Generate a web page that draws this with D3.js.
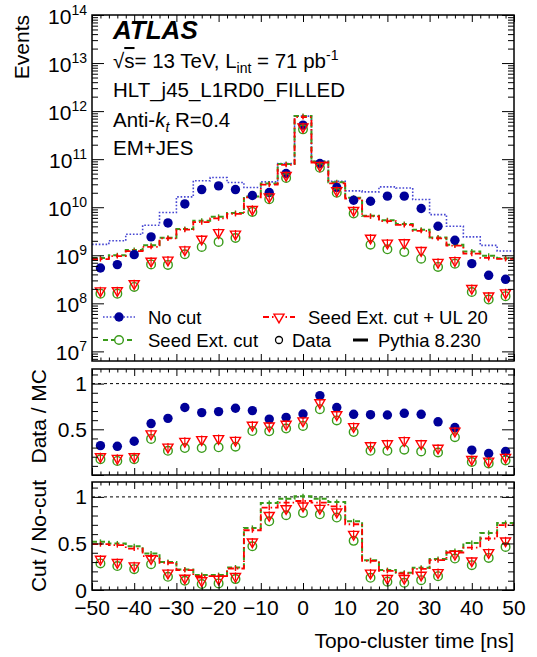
<!DOCTYPE html>
<html>
<head>
<meta charset="utf-8">
<script src="https://cdn.jsdelivr.net/npm/d3@7"></script>
<style>
  body { margin: 0; background: #fff; }
  svg { font-family: "Liberation Sans", Arial, Helvetica, sans-serif; }
</style>
</head>
<body>
<div id="chart"></div>
<script>
// bin centres of the time histogram [ns], 4 ns wide bins
const binCenters = [-48, -44, -40, -36, -32, -28, -24, -20, -16, -12, -8, -4, 0, 4, 8, 12, 16, 20, 24, 28, 32, 36, 40, 44, 48];
const binWidth = 4;

// top panel: events
const dataNoCut = [5.43e8, 6.4e8, 1.03e9, 2.41e9, 4.71e9, 1.17e10, 2.33e10, 2.78e10, 2.33e10, 1.75e10, 2.02e10, 5.04e10, 5.11e11, 8.13e10, 2.57e10, 1.4e10, 1.33e10, 1.7e10, 1.7e10, 9.4e9, 4.02e9, 2.05e9, 6.7e8, 3.83e8, 3.16e8];
const dataSeed = [1.59e8, 1.59e8, 2.19e8, 6.46e8, 6.31e8, 1.05e9, 1.49e9, 1.9e9, 2.29e9, 8.0e9, 1.47e10, 4.07e10, 4.17e11, 6.6e10, 2.0e10, 7.38e9, 1.66e9, 1.33e9, 1.17e9, 8.5e8, 5.71e8, 6.7e8, 1.72e8, 1.2e8, 1.41e8];
const dataSeedUL = [1.74e8, 1.75e8, 2.45e8, 7.2e8, 7.6e8, 1.24e9, 2.07e9, 2.83e9, 2.64e9, 8.6e9, 1.57e10, 4.38e10, 4.49e11, 7.05e10, 2.12e10, 8.2e9, 2.17e9, 1.71e9, 1.74e9, 1.2e9, 6.8e8, 7.4e8, 1.95e8, 1.36e8, 1.58e8];
const mcNoCut = [1.69e9, 2.0e9, 2.74e9, 4.22e9, 7.76e9, 1.64e10, 3.55e10, 4.15e10, 3.27e10, 2.57e10, 3.37e10, 8.13e10, 7.87e11, 9.08e10, 3.47e10, 2.19e10, 2.09e10, 2.65e10, 2.51e10, 1.45e10, 7.03e9, 4.02e9, 2.41e9, 1.61e9, 1.23e9];
const mcSeed = [8.75e8, 1.0e9, 1.29e9, 1.62e9, 2.32e9, 3.51e9, 5.25e9, 6.31e9, 7.59e9, 1.68e10, 3.13e10, 7.98e10, 7.93e11, 8.91e10, 3.31e10, 1.58e10, 6.61e9, 5.37e9, 4.47e9, 3.39e9, 2.33e9, 1.66e9, 1.2e9, 9.77e8, 8.71e8];
const mcSeedUL = [8.32e8, 9.64e8, 1.22e9, 1.5e9, 2.24e9, 3.41e9, 4.89e9, 5.87e9, 7.24e9, 1.61e10, 2.96e10, 7.64e10, 7.53e11, 8.53e10, 3.15e10, 1.52e10, 6.46e9, 5.16e9, 4.28e9, 3.22e9, 2.25e9, 1.59e9, 1.08e9, 8.81e8, 8.41e8];

// middle panel: data / MC
const dmcNoCut = [0.321, 0.314, 0.369, 0.563, 0.62, 0.739, 0.683, 0.694, 0.731, 0.705, 0.612, 0.631, 0.668, 0.869, 0.739, 0.664, 0.66, 0.657, 0.675, 0.664, 0.582, 0.519, 0.272, 0.235, 0.257];
const dmcSeed = [0.172, 0.154, 0.172, 0.395, 0.265, 0.295, 0.295, 0.303, 0.31, 0.481, 0.478, 0.508, 0.537, 0.72, 0.597, 0.47, 0.265, 0.265, 0.277, 0.257, 0.246, 0.414, 0.142, 0.127, 0.16];
const dmcSeedUL = [0.19, 0.172, 0.19, 0.44, 0.295, 0.358, 0.377, 0.388, 0.369, 0.534, 0.526, 0.545, 0.582, 0.78, 0.649, 0.519, 0.31, 0.332, 0.366, 0.332, 0.283, 0.47, 0.16, 0.142, 0.183];

// bottom panel: cut / no-cut
const cutDataSeed = [0.285, 0.257, 0.224, 0.277, 0.142, 0.099, 0.064, 0.071, 0.117, 0.47, 0.738, 0.803, 0.828, 0.813, 0.778, 0.528, 0.131, 0.089, 0.077, 0.106, 0.149, 0.338, 0.267, 0.345, 0.463];
const cutDataSeedUL = [0.32, 0.285, 0.249, 0.327, 0.171, 0.117, 0.089, 0.106, 0.135, 0.506, 0.791, 0.863, 0.892, 0.867, 0.828, 0.588, 0.171, 0.114, 0.114, 0.149, 0.177, 0.374, 0.302, 0.392, 0.517];
const cutMcSeed = [0.517, 0.5, 0.47, 0.392, 0.302, 0.22, 0.16, 0.16, 0.242, 0.667, 0.934, 0.981, 1.006, 0.981, 0.946, 0.738, 0.32, 0.214, 0.185, 0.239, 0.332, 0.42, 0.506, 0.613, 0.72];
const cutMcSeedUL = [0.492, 0.482, 0.445, 0.363, 0.292, 0.214, 0.149, 0.149, 0.231, 0.642, 0.884, 0.938, 0.956, 0.938, 0.899, 0.706, 0.313, 0.206, 0.177, 0.227, 0.32, 0.403, 0.456, 0.553, 0.696];

const xTickLabels = [-50, -40, -30, -20, -10, 0, 10, 20, 30, 40, 50];
const logTicks = [1e7, 1e8, 1e9, 1e10, 1e11, 1e12, 1e13, 1e14];
const ratioTicks = [0, 0.5, 1];

const W = 537, H = 657;
const X0 = 92, X1 = 514;
const panels = {
  top: { y0: 15, y1: 361 },
  mid: { y0: 369, y1: 475 },
  bot: { y0: 482, y1: 590 }
};

const colBlue = "#000099", colBlueLine = "#4646d2";
const colGreen = "#3a9b1a", colRed = "#ff0000";

const svg = d3.select("#chart").append("svg")
  .attr("width", W).attr("height", H);

const x = d3.scaleLinear().domain([-50, 50]).range([X0, X1]);
const yTop = d3.scaleLog().domain([Math.pow(10, 6.8), 1e14]).range([panels.top.y1, panels.top.y0]);
const yMid = d3.scaleLinear().domain([0, 1.16]).range([panels.mid.y1, panels.mid.y0]);
const yBot = d3.scaleLinear().domain([0, 1.16]).range([panels.bot.y1, panels.bot.y0]);

const xMajor = xTickLabels;
const xMinor = d3.range(-50, 50.1, 2).filter(v => v % 10 !== 0);

function drawXTicks(p, major, minor) {
  const mk = (axisFn, y, vals, len) => svg.append("g")
    .attr("transform", `translate(0,${y})`)
    .call(axisFn(x).tickValues(vals).tickSize(len).tickFormat(""))
    .call(g => g.select(".domain").remove())
    .selectAll("line").attr("stroke", "#000");
  mk(d3.axisBottom, p.y1, xMajor, -major);
  mk(d3.axisBottom, p.y1, xMinor, -minor);
  mk(d3.axisTop, p.y0, xMajor, -major);
  mk(d3.axisTop, p.y0, xMinor, -minor);
}

function drawYTicks(y, majors, minors, major, minor) {
  const mk = (axisFn, xp, vals, len) => svg.append("g")
    .attr("transform", `translate(${xp},0)`)
    .call(axisFn(y).tickValues(vals).tickSize(len).tickFormat(""))
    .call(g => g.select(".domain").remove())
    .selectAll("line").attr("stroke", "#000");
  mk(d3.axisLeft, X0, majors, -major);
  mk(d3.axisLeft, X0, minors, -minor);
  mk(d3.axisRight, X1, majors, -major);
  mk(d3.axisRight, X1, minors, -minor);
}

function drawFrame(p) {
  svg.append("rect")
    .attr("x", X0).attr("y", p.y0)
    .attr("width", X1 - X0).attr("height", p.y1 - p.y0)
    .attr("fill", "none").attr("stroke", "#000").attr("stroke-width", 1.5);
}

const stepLine = (y) => d3.line()
  .x(d => x(d[0])).y(d => y(d[1]))
  .curve(d3.curveStepAfter);

function stepPoints(vals) {
  const pts = binCenters.map((c, i) => [c - binWidth / 2, vals[i]]);
  pts.push([binCenters[binCenters.length - 1] + binWidth / 2, vals[vals.length - 1]]);
  return pts;
}

const styles = {
  blue: { stroke: colBlueLine, dash: "1.6,1.8", width: 1.6 },
  green: { stroke: colGreen, dash: "5,3", width: 2 },
  red: { stroke: colRed, dash: "6,3,1.5,3", width: 1.8 }
};

function drawStep(y, vals, st, withErr) {
  svg.append("path")
    .attr("d", stepLine(y)(stepPoints(vals)))
    .attr("fill", "none")
    .attr("stroke", st.stroke)
    .attr("stroke-width", st.width)
    .attr("stroke-dasharray", st.dash);
  if (withErr) {
    svg.append("g").selectAll("line")
      .data(binCenters.map((c, i) => [c, vals[i]]))
      .join("line")
      .attr("x1", d => x(d[0])).attr("x2", d => x(d[0]))
      .attr("y1", d => y(d[1]) - 2.5).attr("y2", d => y(d[1]) + 2.5)
      .attr("stroke", st.stroke).attr("stroke-width", 1.4);
  }
}

function drawFilled(y, vals) {
  svg.append("g").selectAll("circle")
    .data(binCenters.map((c, i) => [c, vals[i]]))
    .join("circle")
    .attr("cx", d => x(d[0])).attr("cy", d => y(d[1]))
    .attr("r", 4.7).attr("fill", colBlue);
}

function drawOpen(y, vals) {
  svg.append("g").selectAll("circle")
    .data(binCenters.map((c, i) => [c, vals[i]]))
    .join("circle")
    .attr("cx", d => x(d[0])).attr("cy", d => y(d[1]))
    .attr("r", 4.3).attr("fill", "none")
    .attr("stroke", colGreen).attr("stroke-width", 1.4);
}

const triSym = d3.symbol(d3.symbolTriangle, 44);
function drawTri(y, vals) {
  const g = svg.append("g");
  const pts = binCenters.map((c, i) => [c, vals[i]]);
  g.selectAll("line")
    .data(pts).join("line")
    .attr("x1", d => x(d[0])).attr("x2", d => x(d[0]))
    .attr("y1", d => y(d[1]) - 5).attr("y2", d => y(d[1]) + 3)
    .attr("stroke", colRed).attr("stroke-width", 1.2);
  g.selectAll("path")
    .data(pts).join("path")
    .attr("d", triSym())
    .attr("transform", d => `translate(${x(d[0])},${y(d[1]) - 1}) rotate(180)`)
    .attr("fill", "none").attr("stroke", colRed).attr("stroke-width", 1.4);
}

// ---------- top panel ----------
drawStep(yTop, mcNoCut, styles.blue, false);
drawStep(yTop, mcSeed, styles.green, true);
drawStep(yTop, mcSeedUL, styles.red, true);
drawFilled(yTop, dataNoCut);
drawOpen(yTop, dataSeed);
drawTri(yTop, dataSeedUL);

const logMinor = [];
for (let k = 6; k < 14; k++) for (let m = 2; m <= 9; m++) {
  const v = m * Math.pow(10, k);
  if (v > yTop.domain()[0] && v < 1e14) logMinor.push(v);
}
drawYTicks(yTop, logTicks, logMinor, 12, 6);
drawXTicks(panels.top, 7, 3.5);
drawFrame(panels.top);

// log labels 10^n
const topLabels = svg.append("g").attr("font-size", 21).attr("text-anchor", "end");
logTicks.forEach(v => {
  const t = topLabels.append("text").attr("x", X0 - 5).attr("y", yTop(v) + 9);
  t.append("tspan").text("10");
  t.append("tspan").attr("font-size", 14).attr("dy", -9).text(Math.round(Math.log10(v)));
});

svg.append("text")
  .attr("transform", `translate(29,${panels.top.y0}) rotate(-90)`)
  .attr("text-anchor", "end").attr("font-size", 21)
  .text("Events");

// ATLAS label block
const tx = 113;
svg.append("text").attr("x", tx).attr("y", 39)
  .attr("font-size", 26).attr("font-weight", "bold").attr("font-style", "italic")
  .text("ATLAS");
const l1 = svg.append("text").attr("x", tx).attr("y", 68).attr("font-size", 20.5);
l1.append("tspan").text("√");
l1.append("tspan").style("text-decoration", "overline").text("s");
l1.append("tspan").text("= 13 TeV, L");
l1.append("tspan").attr("font-size", 14).attr("dy", 5).text("int");
l1.append("tspan").attr("dy", -5).text(" = 71 pb");
l1.append("tspan").attr("font-size", 14).attr("dy", -8).text("-1");
svg.append("text").attr("x", tx).attr("y", 97).attr("font-size", 20.5).text("HLT_j45_L1RD0_FILLED");
const l3 = svg.append("text").attr("x", tx).attr("y", 127).attr("font-size", 20.5);
l3.append("tspan").text("Anti-");
l3.append("tspan").attr("font-style", "italic").text("k");
l3.append("tspan").attr("font-style", "italic").attr("font-size", 14).attr("dy", 5).text("t");
l3.append("tspan").attr("dy", -5).text(" R=0.4");
svg.append("text").attr("x", tx).attr("y", 155).attr("font-size", 20.5).text("EM+JES");

// legend
const lg = svg.append("g").attr("font-size", 18.5);
const row1 = 317, row2 = 340;
function legLine(x1, x2, yy, st) {
  lg.append("line").attr("x1", x1).attr("x2", x2).attr("y1", yy).attr("y2", yy)
    .attr("stroke", st.stroke).attr("stroke-width", st.width).attr("stroke-dasharray", st.dash);
}
legLine(103, 135, row1, styles.blue);
lg.append("circle").attr("cx", 119).attr("cy", row1).attr("r", 4.7).attr("fill", colBlue);
lg.append("text").attr("x", 148).attr("y", row1 + 6.5).text("No cut");

legLine(103, 135, row2, styles.green);
lg.append("circle").attr("cx", 119).attr("cy", row2).attr("r", 4.3)
  .attr("fill", "#fff").attr("stroke", colGreen).attr("stroke-width", 1.4);
lg.append("text").attr("x", 148).attr("y", row2 + 6.5).text("Seed Ext. cut");

legLine(263, 295, row1, styles.red);
lg.append("path").attr("d", triSym())
  .attr("transform", `translate(279,${row1}) rotate(180)`)
  .attr("fill", "#fff").attr("stroke", colRed).attr("stroke-width", 1.4);
lg.append("text").attr("x", 308).attr("y", row1 + 6.5).text("Seed Ext. cut + UL 20");

lg.append("circle").attr("cx", 279).attr("cy", row2).attr("r", 3.5)
  .attr("fill", "none").attr("stroke", "#000").attr("stroke-width", 1.3);
lg.append("text").attr("x", 292).attr("y", row2 + 6.5).text("Data");

lg.append("line").attr("x1", 353).attr("x2", 368).attr("y1", row2).attr("y2", row2)
  .attr("stroke", "#000").attr("stroke-width", 3);
lg.append("text").attr("x", 378).attr("y", row2 + 6.5).text("Pythia 8.230");

// ---------- ratio panels ----------
const ratioMinor = d3.range(0.1, 1.16, 0.1).filter(v => Math.abs(v - 0.5) > 1e-6 && Math.abs(v - 1) > 1e-6);

function refLine(y) {
  svg.append("line")
    .attr("x1", X0).attr("x2", X1).attr("y1", y(1)).attr("y2", y(1))
    .attr("stroke", "#000").attr("stroke-width", 1).attr("stroke-dasharray", "3,3");
}

function ratioLabels(y, vals) {
  svg.append("g").attr("font-size", 21).attr("text-anchor", "end")
    .selectAll("text").data(vals).join("text")
    .attr("x", X0 - 5).attr("y", d => y(d) + 7.5)
    .text(d => d);
}

// middle
refLine(yMid);
drawFilled(yMid, dmcNoCut);
drawOpen(yMid, dmcSeed);
drawTri(yMid, dmcSeedUL);
drawYTicks(yMid, ratioTicks, ratioMinor, 12, 6);
drawXTicks(panels.mid, 7, 3.5);
drawFrame(panels.mid);
ratioLabels(yMid, [0.5, 1]);
svg.append("text")
  .attr("transform", `translate(46,${panels.mid.y0}) rotate(-90)`)
  .attr("text-anchor", "end").attr("font-size", 21)
  .text("Data / MC");

// bottom
refLine(yBot);
drawStep(yBot, cutMcSeed, styles.green, true);
drawStep(yBot, cutMcSeedUL, styles.red, true);
drawOpen(yBot, cutDataSeed);
drawTri(yBot, cutDataSeedUL);
drawYTicks(yBot, ratioTicks, ratioMinor, 12, 6);
drawXTicks(panels.bot, 7, 3.5);
drawFrame(panels.bot);
ratioLabels(yBot, [0, 0.5, 1]);
svg.append("text")
  .attr("transform", `translate(46,${panels.bot.y0 - 2}) rotate(-90)`)
  .attr("text-anchor", "end").attr("font-size", 21)
  .text("Cut / No-cut");

// x tick labels
svg.append("g").attr("font-size", 21).attr("text-anchor", "middle")
  .selectAll("text").data(xTickLabels).join("text")
  .attr("x", d => x(d)).attr("y", panels.bot.y1 + 25)
  .text(d => d < 0 ? "\u2212" + Math.abs(d) : d);

svg.append("text")
  .attr("x", X1).attr("y", 648)
  .attr("text-anchor", "end").attr("font-size", 21)
  .text("Topo-cluster time [ns]");
</script>
</body>
</html>
